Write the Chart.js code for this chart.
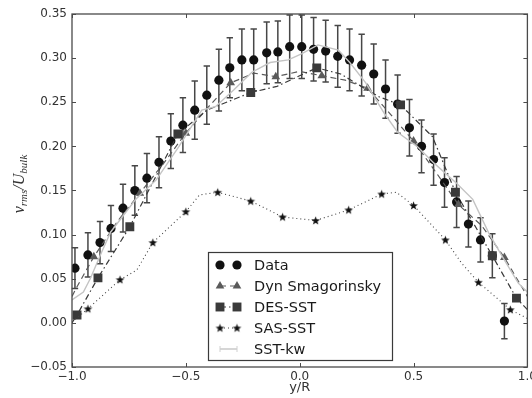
<!DOCTYPE html>
<html>
<head>
<meta charset="utf-8">
<script src="https://cdn.jsdelivr.net/npm/chart.js@4.4.0/dist/chart.umd.min.js"></script>
<style>
  html, body { margin: 0; padding: 0; background: #fff; }
  #wrap { width: 532px; height: 398px; }
</style>
</head>
<body>
<div id="wrap"><canvas id="chart"></canvas></div>
<script>
// measured profile, y/R vs v_rms/U_bulk
const dataU = [-0.987, -0.930, -0.877, -0.829, -0.776, -0.724, -0.671, -0.618, -0.566, -0.513,
  -0.461, -0.408, -0.355, -0.307, -0.254, -0.202, -0.145, -0.096, -0.044, 0.009, 0.061, 0.114,
  0.167, 0.219, 0.272, 0.325, 0.377, 0.430, 0.482, 0.535, 0.588, 0.636, 0.689, 0.741, 0.794,
  0.846, 0.899];
const dataV = [0.062, 0.077, 0.091, 0.107, 0.130, 0.150, 0.164, 0.182, 0.206, 0.224, 0.241,
  0.258, 0.275, 0.289, 0.298, 0.298, 0.306, 0.307, 0.313, 0.313, 0.310, 0.308, 0.302, 0.298,
  0.292, 0.282, 0.265, 0.248, 0.221, 0.200, 0.185, 0.159, 0.137, 0.112, 0.094, 0.076, 0.002];
const dataErr = [0.023, 0.025, 0.024, 0.026, 0.027, 0.028, 0.028, 0.029, 0.031, 0.031, 0.033,
  0.033, 0.035, 0.034, 0.035, 0.035, 0.035, 0.035, 0.036, 0.036, 0.036, 0.035, 0.035, 0.035,
  0.035, 0.034, 0.033, 0.033, 0.032, 0.030, 0.029, 0.028, 0.029, 0.026, 0.025, 0.025, 0.020];

const dynU = [-1.0, -0.98, -0.904, -0.8, -0.702, -0.6, -0.5, -0.4, -0.303, -0.2, -0.105, 0.0,
  0.097, 0.2, 0.298, 0.4, 0.5, 0.6, 0.697, 0.8, 0.899, 1.0];
const dynV = [0.030, 0.040, 0.075, 0.115, 0.147, 0.180, 0.215, 0.245, 0.272, 0.283, 0.279,
  0.285, 0.280, 0.275, 0.266, 0.236, 0.206, 0.170, 0.134, 0.110, 0.074, 0.030];
const dynMarks = [2, 4, 6, 8, 10, 12, 14, 16, 18, 20];

const desU = [-1.0, -0.978, -0.886, -0.746, -0.535, -0.408, -0.215, -0.1, 0.075, 0.18, 0.27,
  0.35, 0.443, 0.583, 0.684, 0.846, 0.952, 1.0];
const desV = [0.000, 0.009, 0.051, 0.109, 0.214, 0.241, 0.261, 0.268, 0.289, 0.282, 0.268,
  0.256, 0.247, 0.211, 0.148, 0.076, 0.028, 0.015];
const desMarks = [1, 2, 3, 4, 6, 8, 12, 14, 15, 16];

const sasU = [-1.0, -0.930, -0.789, -0.715, -0.645, -0.5, -0.44, -0.36, -0.215, -0.075, 0.070,
  0.215, 0.360, 0.425, 0.5, 0.640, 0.71, 0.785, 0.925, 1.0];
const sasV = [0.001, 0.016, 0.049, 0.060, 0.091, 0.126, 0.145, 0.148, 0.138, 0.120, 0.116,
  0.128, 0.146, 0.148, 0.133, 0.094, 0.068, 0.046, 0.015, 0.005];
const sasMarks = [1, 2, 4, 5, 7, 8, 9, 10, 11, 12, 14, 15, 17, 18];

const sstU = [-1.0, -0.95, -0.92, -0.87, -0.83, -0.72, -0.63, -0.53, -0.43, -0.37, -0.29, -0.21,
  -0.13, -0.05, 0.01, 0.08, 0.17, 0.22, 0.29, 0.37, 0.43, 0.52, 0.59, 0.69, 0.76, 0.83, 0.89,
  0.96, 1.0];
const sstV = [0.026, 0.035, 0.050, 0.080, 0.103, 0.140, 0.162, 0.200, 0.241, 0.245, 0.264, 0.284,
  0.295, 0.298, 0.305, 0.315, 0.309, 0.295, 0.272, 0.238, 0.216, 0.199, 0.181, 0.158, 0.140,
  0.102, 0.075, 0.045, 0.035];

const xTicks = [-1.0, -0.5, 0.0, 0.5, 1.0];
const yTicks = [-0.05, 0.0, 0.05, 0.10, 0.15, 0.20, 0.25, 0.30, 0.35];

const FONT = 'DejaVu Sans, sans-serif';

function pts(us, vs) {
  return us.map((u, i) => ({ x: u, y: vs[i] }));
}

function minus(s) {
  return s.replace('-', '\u2212');
}

// filled five point star, like the matplotlib '*' marker
function starImage() {
  const c = document.createElement('canvas');
  c.width = 11; c.height = 11;
  const g = c.getContext('2d');
  g.fillStyle = '#111';
  g.beginPath();
  for (let k = 0; k < 10; k++) {
    const r = k % 2 === 0 ? 4.6 : 1.9;
    const a = -Math.PI / 2 + k * Math.PI / 5;
    const px = 5.5 + r * Math.cos(a), py = 5.8 + r * Math.sin(a);
    if (k === 0) g.moveTo(px, py); else g.lineTo(px, py);
  }
  g.closePath();
  g.fill();
  return c;
}
const star = starImage();

function markerRadius(marks, r) {
  return (ctx) => (marks.includes(ctx.dataIndex) ? r : 0);
}

const datasets = [
  {
    label: 'Data',
    data: pts(dataU, dataV),
    showLine: false,
    pointStyle: 'circle',
    pointRadius: 4.6,
    pointHoverRadius: 4.6,
    backgroundColor: '#111',
    borderColor: '#111',
    pointBorderWidth: 0,
    order: 5,
  },
  {
    label: 'Dyn Smagorinsky',
    data: pts(dynU, dynV),
    showLine: true,
    borderColor: '#5a5a5a',
    borderWidth: 1.2,
    borderDash: [6, 4],
    backgroundColor: '#5a5a5a',
    pointStyle: 'triangle',
    pointRadius: markerRadius(dynMarks, 5),
    pointHoverRadius: markerRadius(dynMarks, 5),
    pointBorderWidth: 0,
    pointBackgroundColor: '#5a5a5a',
    order: 4,
  },
  {
    label: 'DES-SST',
    data: pts(desU, desV),
    showLine: true,
    borderColor: '#3a3a3a',
    borderWidth: 1.2,
    borderDash: [6, 3, 1.5, 3],
    backgroundColor: '#3a3a3a',
    pointStyle: 'rect',
    pointRadius: markerRadius(desMarks, 6.3),
    pointHoverRadius: markerRadius(desMarks, 6.3),
    pointBorderWidth: 0,
    pointBackgroundColor: '#3a3a3a',
    order: 3,
  },
  {
    label: 'SAS-SST',
    data: pts(sasU, sasV),
    showLine: true,
    borderColor: '#444',
    borderWidth: 1.1,
    borderDash: [1, 3],
    backgroundColor: '#111',
    pointStyle: star,
    pointRadius: markerRadius(sasMarks, 5),
    pointHoverRadius: markerRadius(sasMarks, 5),
    order: 2,
  },
  {
    label: 'SST-kw',
    data: pts(sstU, sstV),
    showLine: true,
    borderColor: '#c4c4c4',
    borderWidth: 1.4,
    pointRadius: 0,
    pointHoverRadius: 0,
    order: 1,
  },
];

const errorBars = {
  id: 'errorBars',
  beforeDatasetsDraw(chart) {
    const { ctx, scales: { x, y } } = chart;
    ctx.save();
    ctx.strokeStyle = '#474747';
    ctx.lineWidth = 1.5;
    dataU.forEach((u, i) => {
      const px = x.getPixelForValue(u);
      const top = y.getPixelForValue(dataV[i] + dataErr[i]);
      const bot = y.getPixelForValue(dataV[i] - dataErr[i]);
      ctx.beginPath();
      ctx.moveTo(px, top); ctx.lineTo(px, bot);
      ctx.moveTo(px - 3.2, top); ctx.lineTo(px + 3.2, top);
      ctx.moveTo(px - 3.2, bot); ctx.lineTo(px + 3.2, bot);
      ctx.stroke();
    });
    ctx.restore();
  },
};

// frame with inward ticks on all four sides
const frame = {
  id: 'frame',
  afterDatasetsDraw(chart) {
    const { ctx, chartArea: a, scales: { x, y } } = chart;
    ctx.save();
    ctx.strokeStyle = '#4a4a4a';
    ctx.lineWidth = 1.3;
    ctx.strokeRect(a.left, a.top, a.right - a.left, a.bottom - a.top);
    ctx.lineWidth = 1;
    ctx.beginPath();
    xTicks.forEach((t) => {
      const px = Math.round(x.getPixelForValue(t)) + 0.5;
      ctx.moveTo(px, a.bottom); ctx.lineTo(px, a.bottom - 4);
      ctx.moveTo(px, a.top); ctx.lineTo(px, a.top + 4);
    });
    yTicks.forEach((t) => {
      const py = Math.round(y.getPixelForValue(t)) + 0.5;
      ctx.moveTo(a.left, py); ctx.lineTo(a.left + 4, py);
      ctx.moveTo(a.right, py); ctx.lineTo(a.right - 4, py);
    });
    ctx.stroke();
    ctx.restore();
  },
};

const legendBox = {
  id: 'legendBox',
  afterDraw(chart) {
    const { ctx, chartArea: a } = chart;
    const left = a.left + 136, top = a.top + 238, w = 184, h = 108;
    ctx.save();
    ctx.fillStyle = '#fff';
    ctx.fillRect(left, top, w, h);
    ctx.strokeStyle = '#3a3a3a';
    ctx.lineWidth = 1.2;
    ctx.strokeRect(left + 0.5, top + 0.5, w, h);
    ctx.font = '14.5px ' + FONT;
    ctx.textBaseline = 'middle';
    chart.data.datasets.forEach((ds, i) => {
      const cy = top + 13 + i * 21;
      const x1 = left + 12, x2 = left + 29;
      if (ds.showLine) {
        ctx.save();
        ctx.strokeStyle = ds.borderColor;
        ctx.lineWidth = ds.borderWidth;
        ctx.setLineDash(ds.borderDash || []);
        ctx.beginPath();
        ctx.moveTo(x1, cy); ctx.lineTo(x2, cy);
        ctx.stroke();
        ctx.restore();
      }
      if (ds.label === 'SST-kw') {
        ctx.strokeStyle = '#d0d0d0';
        ctx.lineWidth = 1;
        ctx.beginPath();
        ctx.moveTo(x1, cy - 3); ctx.lineTo(x1, cy + 3);
        ctx.moveTo(x2, cy - 3); ctx.lineTo(x2, cy + 3);
        ctx.stroke();
      } else {
        const r = { Data: 4.6, 'Dyn Smagorinsky': 5, 'DES-SST': 6.3, 'SAS-SST': 5 }[ds.label];
        const opts = { pointStyle: ds.pointStyle, radius: r, rotation: 0, borderWidth: 0 };
        ctx.fillStyle = ds.pointBackgroundColor || ds.backgroundColor;
        Chart.helpers.drawPoint(ctx, opts, x1, cy);
        Chart.helpers.drawPoint(ctx, opts, x2, cy);
      }
      ctx.fillStyle = '#1a1a1a';
      ctx.textAlign = 'left';
      ctx.fillText(ds.label, left + 46, cy + 1);
    });
    ctx.restore();
  },
};

const axisTitles = {
  id: 'axisTitles',
  afterDraw(chart) {
    const { ctx, chartArea: a } = chart;
    ctx.save();
    ctx.fillStyle = '#333';
    ctx.font = '13px ' + FONT;
    ctx.textAlign = 'center';
    ctx.textBaseline = 'middle';
    ctx.fillText('y/R', (a.left + a.right) / 2, 388);

    // v_rms / U_bulk, rotated, drawn piece by piece for the subscripts
    const parts = [
      { t: 'v', big: true }, { t: 'rms', big: false },
      { t: '/U', big: true }, { t: 'bulk', big: false },
    ];
    const bigF = 'italic 16px "Liberation Serif", "DejaVu Serif", serif';
    const smallF = 'italic 11px "Liberation Serif", "DejaVu Serif", serif';
    let total = 0;
    parts.forEach((p) => { ctx.font = p.big ? bigF : smallF; p.w = ctx.measureText(p.t).width; total += p.w; });
    ctx.translate(20, 184);
    ctx.rotate(-Math.PI / 2);
    ctx.textAlign = 'left';
    ctx.textBaseline = 'alphabetic';
    let cx = -total / 2;
    parts.forEach((p) => {
      ctx.font = p.big ? bigF : smallF;
      ctx.fillText(p.t, cx, p.big ? 4 : 7);
      cx += p.w;
    });
    ctx.restore();
  },
};

new Chart(document.getElementById('chart'), {
  type: 'scatter',
  data: { datasets },
  options: {
    responsive: true,
    maintainAspectRatio: false,
    animation: false,
    layout: { padding: { left: 0, right: 4, top: 14, bottom: 0 } },
    plugins: { legend: { display: false }, tooltip: { enabled: false } },
    scales: {
      x: {
        type: 'linear',
        min: -1,
        max: 1,
        afterBuildTicks: (s) => { s.ticks = xTicks.map((v) => ({ value: v })); },
        afterFit: (s) => { s.height = 31; s.paddingLeft = 0; s.paddingRight = 0; },
        grid: { display: false, drawTicks: false },
        border: { display: false },
        ticks: {
          padding: 3,
          color: '#333',
          font: { family: FONT, size: 12 },
          maxRotation: 0,
          callback: (v) => minus(Number(v).toFixed(1)),
        },
      },
      y: {
        type: 'linear',
        min: -0.05,
        max: 0.35,
        afterBuildTicks: (s) => { s.ticks = yTicks.map((v) => ({ value: v })); },
        afterFit: (s) => { s.width = 72; s.paddingTop = 0; s.paddingBottom = 0; },
        grid: { display: false, drawTicks: false },
        border: { display: false },
        ticks: {
          padding: 5,
          color: '#333',
          font: { family: FONT, size: 12 },
          callback: (v) => minus(Number(v).toFixed(2)),
        },
      },
    },
  },
  plugins: [errorBars, frame, legendBox, axisTitles],
});
</script>
</body>
</html>
